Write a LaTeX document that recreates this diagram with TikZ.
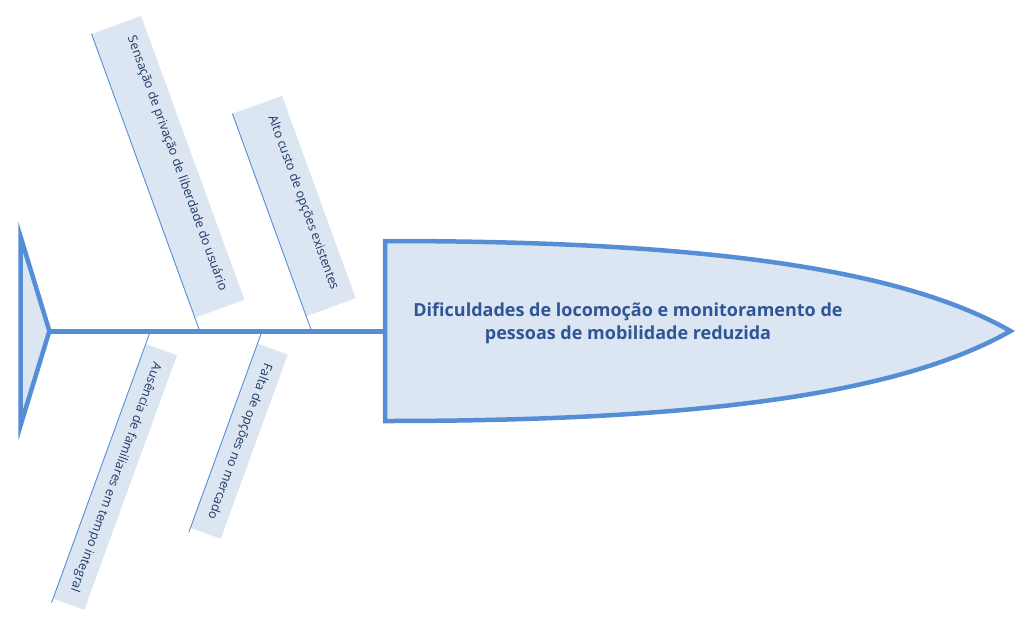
\documentclass[tikz,border=0pt]{standalone}
\usepackage{fontspec}
\setmainfont{Open Sans}
\usetikzlibrary{calc}
\definecolor{bonecol}{HTML}{558ED5}
\definecolor{bonefill}{HTML}{DCE6F2}
\definecolor{labeltext}{HTML}{1F3864}
\definecolor{headtext}{HTML}{2F5597}
\tikzset{
  bone/.style={draw=bonecol, line width=4.5pt, fill=bonefill, line join=miter},
  spineline/.style={draw=bonecol, line width=5pt},
  ribline/.style={draw=bonecol, line width=0.9pt},
  rib/.style={fill=bonefill, draw=none, inner sep=0pt, text=labeltext,
    font=\fontsize{12.6}{14}\selectfont},
  ribup/.style={rib, rotate=-70, text height=3pt, text depth=15pt},
  ribdown/.style={rib, rotate=-110, text height=9pt, text depth=3pt},
  headlabel/.style={text=headtext, align=center, inner sep=0pt,
    font=\fontsize{18}{22.6}\selectfont\bfseries}
}
\begin{document}
\begin{tikzpicture}[x=1pt,y=-1pt]
\useasboundingbox (0,0) rectangle (1031,630);
% tail
\coordinate (tailtip) at (49.4,331);
\coordinate (headleft) at (385,331);
\draw[spineline] (tailtip) -- (headleft);
\draw[bone] (20.5,236.5) -- (tailtip) -- (20.5,425.5) -- cycle;
% head
\draw[bone] (385,241) .. controls (700,241) and (900,268) .. (1010.5,331)
  .. controls (900,394) and (700,421) .. (385,421) -- cycle;
\node[headlabel] (head) at (628,323) {Dificuldades de locomoção e monitoramento de\\pessoas de mobilidade reduzida};
% ribs
\node[ribup, minimum width=302pt, minimum height=52.5pt] (b1) at (168.1,166.8) {Sensação de privação de liberdade do usuário};
\node[ribup, minimum width=215.5pt, minimum height=52.5pt] (b2) at (294.2,206) {Alto custo de opções existentes};
\node[ribdown, minimum width=271pt, minimum height=33pt] (b3) at (115.1,477) {Ausência de familiares em tempo integral};
\node[ribdown, minimum width=196pt, minimum height=32pt] (b4) at (239.2,441.25) {Falta de opções no mercado};
% rib connectors
\draw[ribline] (b1.south west) -- ($(b1.south west)!1.0467!(b1.south east)$);
\draw[ribline] (b2.south west) -- ($(b2.south west)!1.0728!(b2.south east)$);
\draw[ribline] ($(b3.south west)!-0.051!(b3.south east)$) -- ($(b3.south west)!1.015!(b3.south east)$);
\draw[ribline] ($(b4.south west)!-0.068!(b4.south east)$) -- ($(b4.south west)!1.02!(b4.south east)$);
\end{tikzpicture}
\end{document}
